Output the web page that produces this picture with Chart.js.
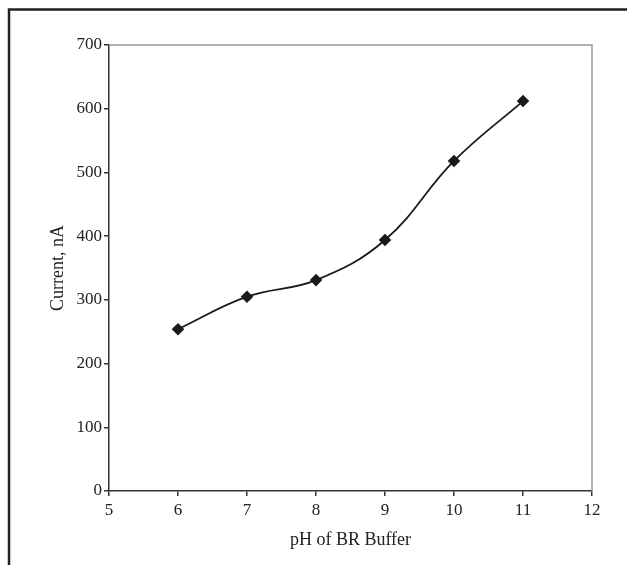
<!DOCTYPE html>
<html>
<head>
<meta charset="utf-8">
<script src="https://cdn.jsdelivr.net/npm/chart.js@4"></script>
<style>
  html, body { margin: 0; padding: 0; background: #fff; }
  #wrap { width: 627px; height: 565px; position: relative; }
</style>
</head>
<body>
<div id="wrap"><canvas id="chart"></canvas></div>
<script>
// Current vs pH of BR buffer
const phValues = [6, 7, 8, 9, 10, 11];
const currentNA = [254, 305, 331, 394, 518, 612];
const xTicks = [5, 6, 7, 8, 9, 10, 11, 12];
const yTicks = [0, 100, 200, 300, 400, 500, 600, 700];

const points = phValues.map((p, i) => ({ x: p, y: currentNA[i] }));

// outer frame (top + left only) and grey top/right edges of the plot box
const framePlugin = {
  id: 'frame',
  beforeDraw(chart) {
    const { ctx, width, height } = chart;
    ctx.save();
    ctx.fillStyle = '#fff';
    ctx.fillRect(0, 0, width, height);
    ctx.restore();
  },
  afterDraw(chart) {
    const { ctx, chartArea: a } = chart;
    ctx.save();
    ctx.strokeStyle = '#999';
    ctx.lineWidth = 1.5;
    ctx.beginPath();
    ctx.moveTo(a.left, a.top);
    ctx.lineTo(a.right, a.top);
    ctx.lineTo(a.right, a.bottom);
    ctx.stroke();

    ctx.strokeStyle = '#222';
    ctx.lineWidth = 2.5;
    ctx.beginPath();
    ctx.moveTo(627, 9.5);
    ctx.lineTo(9, 9.5);
    ctx.lineTo(9, 565);
    ctx.stroke();
    ctx.restore();
  }
};

const tickFont = { family: '"Liberation Serif", "Times New Roman", serif', size: 17 };
const titleFont = { family: '"Liberation Serif", "Times New Roman", serif', size: 18 };

new Chart(document.getElementById('chart'), {
  type: 'line',
  data: {
    datasets: [{
      data: points,
      borderColor: '#1a1a1a',
      backgroundColor: '#1a1a1a',
      borderWidth: 1.8,
      pointStyle: 'rectRot',
      pointRadius: 5,
      pointHoverRadius: 5,
      tension: 0.4,
      fill: false
    }]
  },
  options: {
    responsive: true,
    maintainAspectRatio: false,
    animation: false,
    layout: { padding: { top: 45, right: 35, left: 0, bottom: 0 } },
    plugins: { legend: { display: false }, tooltip: { enabled: false } },
    scales: {
      x: {
        type: 'linear',
        min: 5, max: 12,
        afterBuildTicks: s => { s.ticks = xTicks.map(v => ({ value: v })); },
        afterFit: s => { s.height = 74; },
        grid: { drawOnChartArea: false, tickLength: 5, color: '#333', lineWidth: 1.5 },
        border: { display: true, color: '#333', width: 1.5 },
        ticks: { color: '#222', font: tickFont, padding: 4, maxRotation: 0 },
        title: { display: true, text: 'pH of BR Buffer', color: '#222', font: titleFont, padding: { top: 0, bottom: 14 } }
      },
      y: {
        min: 0, max: 700,
        afterBuildTicks: s => { s.ticks = yTicks.map(v => ({ value: v })); },
        afterFit: s => { s.width = 109; },
        grid: { drawOnChartArea: false, tickLength: 5, color: '#333', lineWidth: 1.5 },
        border: { display: true, color: '#333', width: 1.5 },
        ticks: { color: '#222', font: tickFont, padding: 2 },
        title: { display: true, text: 'Current, nA', color: '#222', font: titleFont, padding: { top: 47, bottom: 0 } }
      }
    }
  },
  plugins: [framePlugin]
});
</script>
</body>
</html>
